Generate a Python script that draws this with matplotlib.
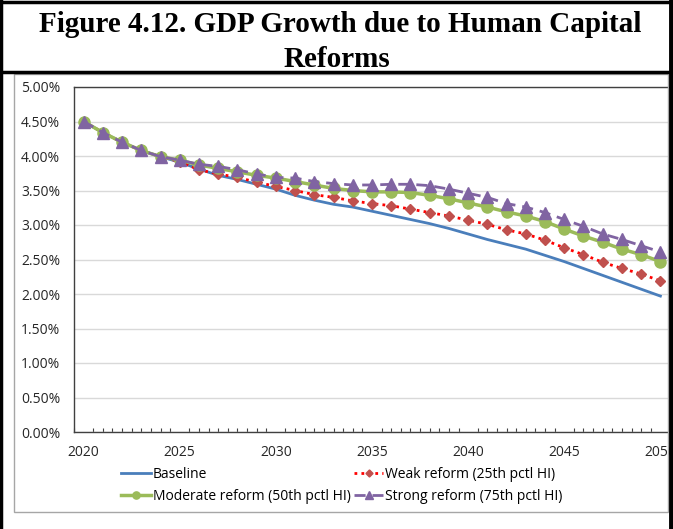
import matplotlib
matplotlib.use("Agg")
from matplotlib import pyplot as plt
from matplotlib.lines import Line2D
from matplotlib.patches import Rectangle
from matplotlib.ticker import FuncFormatter, MultipleLocator
import numpy as np

# GDP growth (%), 2020-2050
years = list(range(2020, 2051))
baseline = [4.50, 4.34, 4.20, 4.08, 3.99, 3.91, 3.81, 3.72, 3.66, 3.59,
            3.52, 3.43, 3.36, 3.30, 3.26, 3.20, 3.14, 3.08, 3.02, 2.95,
            2.87, 2.79, 2.72, 2.65, 2.56, 2.47, 2.37, 2.27, 2.17, 2.07, 1.97]
weak = [4.50, 4.34, 4.20, 4.08, 3.99, 3.92, 3.80, 3.74, 3.69, 3.62,
        3.56, 3.50, 3.44, 3.40, 3.35, 3.31, 3.28, 3.23, 3.18, 3.13,
        3.07, 3.01, 2.93, 2.87, 2.78, 2.67, 2.57, 2.46, 2.37, 2.29, 2.19]
moderate = [4.50, 4.34, 4.20, 4.08, 3.99, 3.94, 3.87, 3.82, 3.77, 3.72,
            3.68, 3.63, 3.58, 3.53, 3.50, 3.48, 3.48, 3.47, 3.43, 3.38,
            3.32, 3.26, 3.19, 3.13, 3.05, 2.94, 2.84, 2.75, 2.65, 2.57, 2.47]
strong = [4.50, 4.34, 4.20, 4.08, 3.99, 3.94, 3.88, 3.85, 3.80, 3.74,
          3.69, 3.68, 3.63, 3.60, 3.58, 3.58, 3.59, 3.59, 3.57, 3.52,
          3.46, 3.40, 3.31, 3.26, 3.18, 3.08, 2.98, 2.87, 2.79, 2.70, 2.61]
labels = ["Baseline", "Weak reform (25th pctl HI)",
          "Moderate reform (50th pctl HI)", "Strong reform (75th pctl HI)"]

W, H = 673, 529
fig = plt.figure(figsize=(W / 100, H / 100), dpi=100)
ax = fig.add_axes([74 / W, 1 - 432 / H, (670 - 74) / W, (432 - 87) / H])

l1, = ax.plot(years, baseline, color="#4a7ebb", lw=2)
l2, = ax.plot(years, weak, color="#ff0000", lw=2, ls=(0, (1, 1.5)),
              marker="D", ms=5.5, mfc="#c0504d", mec="#c0504d")
l3, = ax.plot(years, moderate, color="#9bbb59", lw=2.5,
              marker="o", ms=8, mfc="#9bbb59", mec="#9bbb59")
l4, = ax.plot(years, strong, color="#8064a2", lw=2, ls=(0, (4, 2.5)),
              marker="^", ms=8.5, mfc="#8064a2", mec="#8064a2")

ax.set_xlim(2019.5, 2050.5)
ax.set_ylim(0, 5)
ax.yaxis.set_major_locator(MultipleLocator(0.5))
ax.yaxis.set_major_formatter(FuncFormatter(lambda v, p: f"{v:.2f}%"))
ax.set_xticks(range(2020, 2051, 5))
ax.set_xticks(np.arange(2019.5, 2050.6, 0.5), minor=True)
ax.tick_params(axis="x", which="major", length=0, pad=9,
               labelsize=10, labelcolor="#262626")
ax.tick_params(axis="x", which="minor", direction="in", length=3,
               color="#404040", width=0.8)
ax.tick_params(axis="y", length=0, pad=10, labelsize=10, labelcolor="#262626")
for lab in ax.get_xticklabels() + ax.get_yticklabels():
    lab.set_family("Open Sans")
ax.grid(axis="y", color="#d9d9d9", lw=1)
ax.set_axisbelow(True)
for s in ax.spines.values():
    s.set_color("#404040")
    s.set_linewidth(1)

# legend fills column by column: Baseline/Moderate left, Weak/Strong right
leg = fig.legend([l1, l3, l2, l4], [labels[0], labels[2], labels[1], labels[3]],
                 ncol=2, frameon=False,
                 loc="center", bbox_to_anchor=(342 / W, 1 - 485.5 / H),
                 prop={"family": "Open Sans", "size": 10},
                 handlelength=2.1, handletextpad=0.15, columnspacing=0.25,
                 labelspacing=0.55, markerscale=0.65)

# chart frame and table borders
fig.add_artist(Rectangle((14 / W, 1 - 512 / H), (668 - 14) / W, (512 - 74) / H,
                         transform=fig.transFigure, fill=False,
                         ec="#a6a6a6", lw=1))
for xs, ys, lw in [((1 / W, 1 / W), (0, 1), 2.5),
                   ((671 / W, 671 / W), (0, 1), 3.5),
                   ((0, 1), (1 - 1.5 / H, 1 - 1.5 / H), 2.5),
                   ((0, 671 / W), (1 - 72 / H, 1 - 72 / H), 2.5)]:
    fig.add_artist(Line2D(xs, ys, transform=fig.transFigure, color="black", lw=lw))

fig.text(340 / W, 1 - 32 / H, "Figure 4.12. GDP Growth due to Human Capital",
         ha="center", va="baseline", family="Liberation Serif",
         weight="bold", size=21)
fig.text(337 / W, 1 - 67 / H, "Reforms", ha="center", va="baseline",
         family="Liberation Serif", weight="bold", size=21)

fig.savefig("out.png", dpi=100)
